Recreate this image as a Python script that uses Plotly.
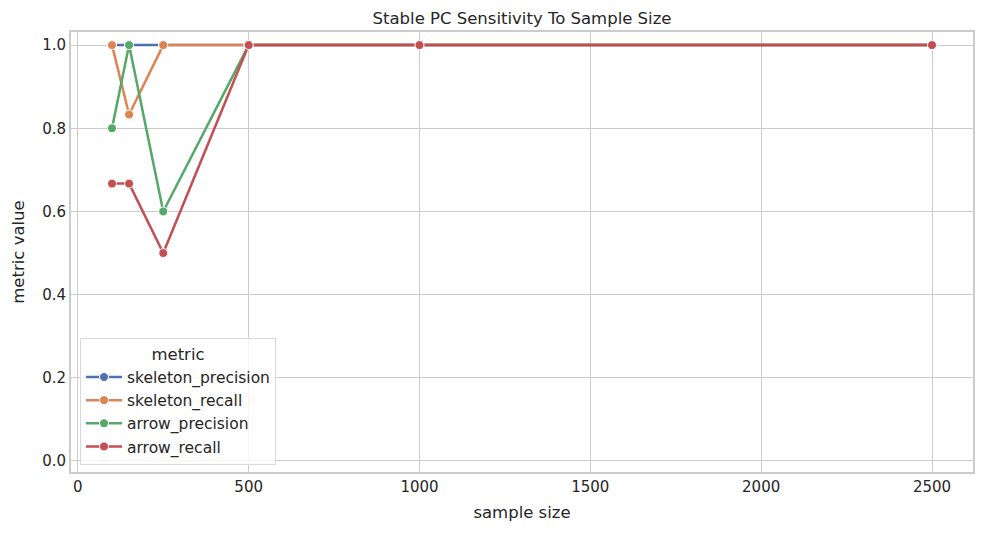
import plotly.graph_objects as go

# sample sizes and metric values
sample_size = [100, 150, 250, 500, 1000, 2500]
skeleton_precision = [1.0, 1.0, 1.0, 1.0, 1.0, 1.0]
skeleton_recall = [1.0, 0.833, 1.0, 1.0, 1.0, 1.0]
arrow_precision = [0.8, 1.0, 0.6, 1.0, 1.0, 1.0]
arrow_recall = [0.667, 0.667, 0.5, 1.0, 1.0, 1.0]

metric_names = ["skeleton_precision", "skeleton_recall", "arrow_precision", "arrow_recall"]
colors = ["#4C72B0", "#DD8452", "#55A868", "#C44E52"]
x_ticks = [0, 500, 1000, 1500, 2000, 2500]
y_ticks = [0.0, 0.2, 0.4, 0.6, 0.8, 1.0]
y_tick_labels = ["0.0", "0.2", "0.4", "0.6", "0.8", "1.0"]

font_family = "DejaVu Sans"
text_color = "#262626"

# page body has an 8px margin, so pull the figure back by that much
off = 8
W, H = 984, 534

fig = go.Figure()

for name, values, color in zip(metric_names,
                               [skeleton_precision, skeleton_recall, arrow_precision, arrow_recall],
                               colors):
    fig.add_trace(go.Scatter(
        name=name,
        x=sample_size,
        y=values,
        mode="lines+markers",
        line=dict(color=color, width=2.5),
        marker=dict(color=color, size=9, line=dict(color="white", width=1))))

fig.update_layout(
    width=W,
    height=H,
    paper_bgcolor="white",
    plot_bgcolor="white",
    font=dict(family=font_family, color=text_color, size=15),
    margin=dict(l=71 - off, r=11 + off, t=32 - off, b=62 + off),
    title=dict(text="Stable PC Sensitivity To Sample Size",
               x=0.5, xref="paper", xanchor="center",
               y=1 - (18 - off) / H, yanchor="middle",
               font=dict(size=16.5, color=text_color)),
    xaxis=dict(
        range=[-20, 2620],
        tickvals=x_ticks,
        ticks="", ticklen=0,
        automargin=False,
        showgrid=True, gridcolor="#cccccc", gridwidth=1.1,
        zeroline=False,
        showline=True, linecolor="#cccccc", linewidth=1.7, mirror=True,
        title=dict(text="sample size", font=dict(size=16.5), standoff=12),
        tickfont=dict(size=15)),
    yaxis=dict(
        range=[-0.0265, 1.0315],
        tickvals=y_ticks,
        ticktext=y_tick_labels,
        ticks="", ticklen=0,
        automargin=False,
        showgrid=True, gridcolor="#cccccc", gridwidth=1.1,
        zeroline=False,
        showline=True, linecolor="#cccccc", linewidth=1.7, mirror=True,
        title=dict(text="metric value", font=dict(size=16.5), standoff=14),
        tickfont=dict(size=15)),
    legend=dict(
        title=dict(text="metric", side="top center", font=dict(size=16.5)),
        x=(80 - 71) / 902, xanchor="left",
        y=(472 - 465) / 440, yanchor="bottom",
        bgcolor="rgba(255,255,255,0.8)",
        bordercolor="#d9d9d9", borderwidth=1,
        font=dict(size=15.5),
        tracegroupgap=0,
        itemwidth=36),
    showlegend=True,
)

fig.write_html("out.html")
